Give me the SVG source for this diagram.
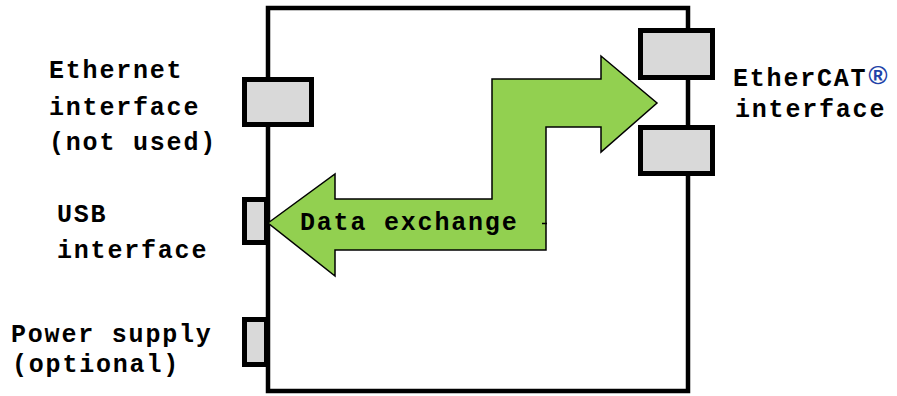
<svg xmlns="http://www.w3.org/2000/svg" width="897" height="396" viewBox="0 0 897 396">
  <style>
    .port { fill: #d9d9d9; stroke: #000; stroke-width: 5; }
    .label { font-family: "Liberation Mono", "DejaVu Sans Mono", monospace; font-weight: bold; font-size: 25px; letter-spacing: 1.8px; fill: #000; }
    .reg { font-family: "Liberation Sans", Arial, sans-serif; font-weight: bold; font-style: italic; font-size: 26px; fill: #1f43a8; }
    .flow { fill: #92d050; stroke: #000; stroke-width: 1.5; stroke-linejoin: miter; }
  </style>
  <rect width="897" height="396" fill="#fff"/>

  <!-- device housing -->
  <g id="device">
    <rect x="268" y="8" width="420" height="383" fill="#fff" stroke="#000" stroke-width="4.5"/>
  </g>

  <!-- left side ports -->
  <g id="ethernet-port">
    <rect class="port" x="244.5" y="79.5" width="67" height="45"/>
    <text class="label" x="49" y="78">Ethernet</text>
    <text class="label" x="49" y="115">interface</text>
    <text class="label" x="49" y="150">(not used)</text>
  </g>
  <g id="usb-port">
    <rect class="port" x="244.5" y="199.5" width="22" height="43"/>
    <text class="label" x="57" y="222">USB</text>
    <text class="label" x="57" y="258">interface</text>
  </g>
  <g id="power-port">
    <rect class="port" x="244.5" y="319.5" width="22" height="45"/>
    <text class="label" x="11" y="342">Power supply</text>
    <text class="label" x="12" y="372">(optional)</text>
  </g>

  <!-- right side EtherCAT ports -->
  <g id="ethercat-port">
    <rect class="port" x="640.5" y="30.5" width="72" height="47"/>
    <rect class="port" x="640.5" y="127.5" width="72" height="46"/>
    <text class="label" x="733" y="86">EtherCAT</text>
    <text class="reg" x="868" y="84">®</text>
    <text class="label" x="735" y="117">interface</text>
  </g>

  <!-- data exchange double arrow -->
  <g id="connectors">
    <polygon class="flow" points="268,223 335,174 335,199 492,199 492,79 601,79 601,56 657,103 601,152 601,127 546,127 546,250 335,250 335,276"/>
    <line x1="542" y1="223.5" x2="547" y2="223.5" stroke="#000" stroke-width="1.5"/>
    <text class="label" x="300" y="230">Data exchange</text>
  </g>
</svg>
